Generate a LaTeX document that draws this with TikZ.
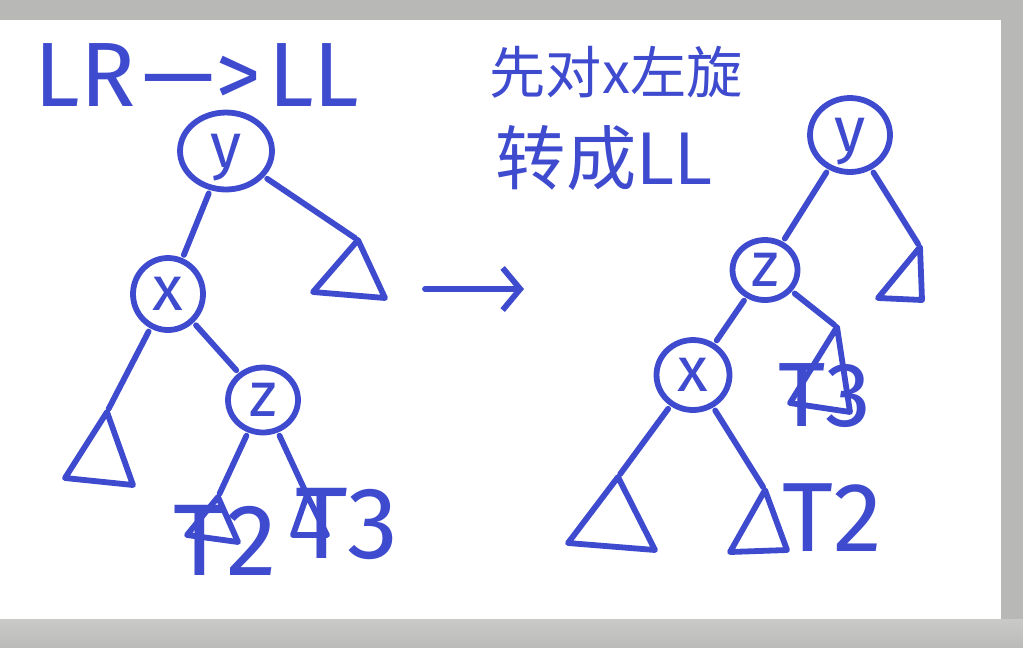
\documentclass[tikz,border=0pt]{standalone}
\usepackage{fontspec}
\setmainfont{Fira Sans}
\newfontfamily\cjk{Noto Sans CJK SC}
\usetikzlibrary{shapes.geometric, positioning, arrows.meta}
\definecolor{pen}{HTML}{3F4BCF}
\definecolor{bggray}{HTML}{B8B9B7}
\definecolor{shelftop}{HTML}{C9CAC8}
\definecolor{shelfbot}{HTML}{BBBCBA}

\begin{document}
\begin{tikzpicture}[x=0.02cm, y=-0.02cm, line width=3.3pt, line cap=round, line join=round,
    key/.style={draw=pen, ellipse, inner sep=0pt, text=pen, text height=19pt, text depth=0pt,
        font=\fontsize{36}{36}\selectfont},
    tag/.style={text=pen, inner sep=0pt, text depth=0pt, font=\fontsize{#1}{#1}\selectfont},
    tag/.default=56,
    link/.style={draw=pen, shorten <=2pt, shorten >=2pt},
    subtree/.style={draw=pen}]

    % --- Background: grey window with white board ---
    \useasboundingbox (0,0) rectangle (1023,647);
    \fill[bggray] (0,0) rectangle (1023,647);
    \shade[top color=shelftop, bottom color=shelfbot, draw=none] (0,619) rectangle (1023,647);
    \fill[white] (0,20) rectangle (1001,619);

    % --- Titles ---
    \node[tag=52] (title) at (197,75) {LR$\,$—>$\,$LL};
    \node[text=pen, inner sep=0pt, font=\cjk\fontsize{32}{32}\selectfont] (note1) at (616,72) {先对x左旋};
    \node[text=pen, inner sep=0pt, font=\cjk\fontsize{40}{40}\selectfont, anchor=west] (note2) at (493,158) {转成LL};

    % --- Left tree (LR case) ---
    \node[key, minimum width=1.84cm, minimum height=1.54cm] (ly) at (226,151) {y};
    \node[key, minimum width=1.4cm, minimum height=1.44cm] (lx) at (168,294) {x};
    \node[key, minimum width=1.4cm, minimum height=1.3cm] (lz) at (263,400) {z};

    % subtrees: apex coordinate, then the triangle
    \coordinate (lt4) at (358,240);
    \coordinate (lt1) at (107,412);
    \coordinate (lt2) at (218,497);
    \coordinate (lt3) at (307,495);
    \draw[subtree] (lt4) -- (313,292) -- (385,298) -- cycle;
    \draw[subtree] (lt1) -- (65,478) -- (133,485) -- cycle;
    \draw[subtree] (lt2) -- (187,535) -- (238,542) -- cycle;
    \draw[subtree] (lt3) -- (293,535) -- (327,535) -- cycle;
    \node[tag=58] (lt2tag) at (225,540) {T2};
    \node[tag=58] (lt3tag) at (347,523) {T3};

    \draw[link] (ly) -- (lx);
    \draw[link] (ly) -- (lt4);
    \draw[link] (lx) -- (lt1);
    \draw[link] (lx) -- (lz);
    \draw[link] (lz) -- (lt2);
    \draw[link] (lz) -- (lt3);

    % --- Arrow between the trees ---
    \coordinate (arrowstart) at (425,289);
    \coordinate (arrowend) at (524,289);
    \draw[pen, -{Straight Barb[length=10pt, width=24pt, line width=3.3pt]}] (arrowstart) -- (arrowend);

    % --- Right tree (after left rotation of x) ---
    \node[key, minimum width=1.6cm, minimum height=1.48cm] (ry) at (850,135) {y};
    \node[key, minimum width=1.3cm, minimum height=1.2cm] (rz) at (765,270) {z};
    \node[key, minimum width=1.46cm, minimum height=1.4cm] (rx) at (693,375) {x};

    \coordinate (rt4) at (920,247);
    \coordinate (rt3) at (837,327);
    \coordinate (rt1) at (618,477);
    \coordinate (rt2) at (765,490);
    \draw[subtree] (rt4) -- (878,298) -- (922,300) -- cycle;
    \draw[subtree] (rt3) -- (790,403) -- (850,412) -- cycle;
    \draw[subtree] (rt1) -- (568,543) -- (655,550) -- cycle;
    \draw[subtree] (rt2) -- (730,552) -- (787,550) -- cycle;
    \node[tag=52] (rt3tag) at (825,395) {T3};
    \node[tag=56] (rt2tag) at (832,518) {T2};

    \draw[link] (ry) -- (rz);
    \draw[link] (ry) -- (rt4);
    \draw[link] (rz) -- (rx);
    \draw[link] (rz) -- (rt3);
    \draw[link] (rx) -- (rt1);
    \draw[link] (rx) -- (rt2);

\end{tikzpicture}
\end{document}
